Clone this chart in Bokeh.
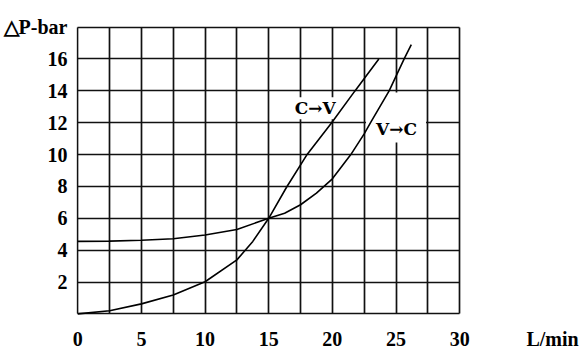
from bokeh.plotting import figure
from bokeh.models import FixedTicker
from bokeh.embed import file_html
from bokeh.resources import INLINE
from bokeh.core.properties import value

# ---- data ----
cv_flow = [0, 2.5, 5, 7.5, 10, 12.5, 13.75, 15, 16.4, 17.97, 19.93, 21.76, 23.65]
cv_dp   = [0, 0.2, 0.63, 1.19, 2.02, 3.39, 4.55, 6.0, 7.95, 9.95, 11.98, 13.98, 16.0]

vc_flow = [0, 2.5, 5, 7.5, 10, 12.5, 15, 16.25, 17.5, 18.75, 20, 21.45, 22.5, 23.0, 24.46, 25.64, 26.2]
vc_dp   = [4.55, 4.57, 4.62, 4.72, 4.95, 5.3, 6.0, 6.32, 6.85, 7.58, 8.48, 10.0, 11.3, 12.0, 14.0, 16.0, 16.9]

x_ticks = [0, 5, 10, 15, 20, 25, 30]
y_ticks = [2, 4, 6, 8, 10, 12, 14, 16, 18]
x_grid = [0, 2.5, 5, 7.5, 10, 12.5, 15, 17.5, 20, 22.5, 25, 27.5, 30]
y_grid = [0, 2, 4, 6, 8, 10, 12, 14, 16, 18]
y_title = "\u25b3P-bar"
x_unit = "L/min"
x_unit_pos = 37.3

curve_names = ["C\u2192V", "V\u2192C"]
curve_label_x = [18.66, 25.0]
curve_label_y = [12.9, 12.33]

FONT = "Liberation Serif"
INK = "#111111"

p = figure(width=581, height=357, output_backend="svg", toolbar_location=None,
           x_range=(-0.1, 38), y_range=(-0.1, 18.1),
           min_border_left=75, min_border_right=20,
           min_border_top=25, min_border_bottom=42)

p.outline_line_color = None
p.background_fill_color = "white"
p.border_fill_color = "white"

p.xgrid.ticker = FixedTicker(ticks=x_grid)
p.ygrid.ticker = FixedTicker(ticks=y_grid)
p.xgrid.cross_bounds = (y_grid[0], y_grid[-1])
p.ygrid.cross_bounds = (x_grid[0], x_grid[-1])
for g in (p.xgrid, p.ygrid):
    g.grid_line_color = INK
    g.grid_line_width = 1.7
    g.grid_line_alpha = 1.0

for ax in (p.xaxis[0], p.yaxis[0]):
    ax.axis_line_color = None
    ax.major_tick_line_color = None
    ax.minor_tick_line_color = None
    ax.major_label_text_font = FONT
    ax.major_label_text_font_style = "bold"
    ax.major_label_text_font_size = "20px"
    ax.major_label_text_color = "black"

p.xaxis[0].ticker = FixedTicker(ticks=x_ticks + [x_unit_pos])
p.xaxis[0].major_label_overrides = {x_unit_pos: x_unit}
p.xaxis[0].major_label_standoff = 6
p.yaxis[0].ticker = FixedTicker(ticks=y_ticks)
p.yaxis[0].major_label_overrides = {18: y_title}
p.yaxis[0].major_label_standoff = 3

pads = [dict(left=1, right=1, top=1, bottom=1), dict(left=10, right=9, top=27, bottom=3)]
for i in range(len(curve_names)):
    p.text(x=[curve_label_x[i]], y=[curve_label_y[i]], text=[curve_names[i]],
           text_font=value("DejaVu Serif"), text_font_style="bold", text_font_size="17px",
           text_align="center", text_baseline="middle", text_color="black",
           background_fill_color="white", padding=pads[i])

p.line(cv_flow, cv_dp, line_color="black", line_width=1.6)
p.line(vc_flow, vc_dp, line_color="black", line_width=1.6)

open("out.html", "w").write(file_html(p, INLINE))
